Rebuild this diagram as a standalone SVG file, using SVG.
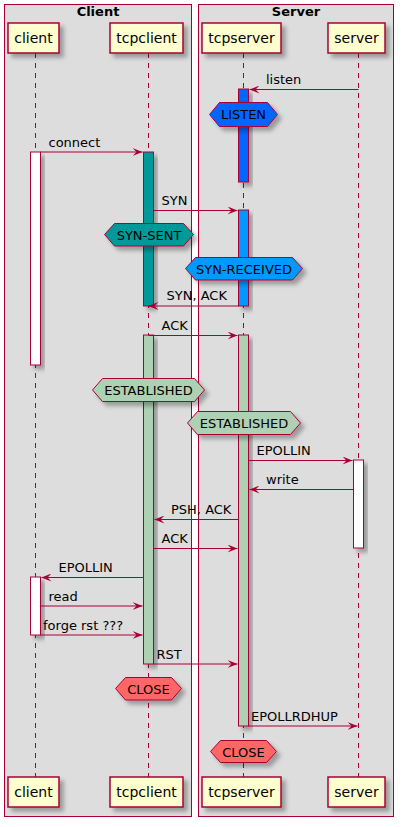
<svg xmlns="http://www.w3.org/2000/svg" width="404" height="827" viewBox="0 0 404 827">
<defs>
<filter id="sh" x="-20%" y="-20%" width="160%" height="160%">
<feDropShadow dx="4" dy="4" stdDeviation="2" flood-color="#000" flood-opacity="0.3"/>
</filter>
<marker id="ah" viewBox="0 0 10 8" refX="10" refY="4" markerWidth="10" markerHeight="8" markerUnits="userSpaceOnUse" orient="auto">
<polygon points="0,0 10,4 0,8 4,4" fill="#A80036"/>
</marker>
</defs>
<style>
.box{fill:#DDDDDD;stroke:#A80036;stroke-width:1}
.bt{font-family:"DejaVu Sans",sans-serif;font-size:13px;font-weight:bold;fill:#000;text-anchor:middle}
.life{stroke:#A80036;stroke-width:1;stroke-dasharray:5,5}
.p{fill:#FEFECE;stroke:#A80036;stroke-width:1.5;filter:url(#sh)}
.pt{font-family:"DejaVu Sans",sans-serif;font-size:14px;fill:#000;text-anchor:middle}
.act{stroke:#A80036;stroke-width:1;filter:url(#sh)}
.hex{stroke:#A80036;stroke-width:1;filter:url(#sh)}
.ht{font-family:"DejaVu Sans",sans-serif;font-size:13px;fill:#000;text-anchor:middle}
.m{stroke:#A80036;stroke-width:1;fill:none;marker-end:url(#ah)}
.ml{font-family:"DejaVu Sans",sans-serif;font-size:13px;fill:#000}
</style>
<rect width="404" height="827" fill="#FFFFFF"/>
<g id="box-client"><rect class="box" x="4.5" y="4.5" width="187" height="812"/><text class="bt" x="98" y="16">Client</text></g>
<g id="box-server"><rect class="box" x="198.5" y="4.5" width="195" height="812"/><text class="bt" x="296" y="16">Server</text></g>
<g id="lifelines">
<line class="life" x1="35.5" y1="53" x2="35.5" y2="777"/>
<line class="life" x1="148.5" y1="53" x2="148.5" y2="777"/>
<line class="life" x1="243.5" y1="53" x2="243.5" y2="777"/>
<line class="life" x1="358.5" y1="53" x2="358.5" y2="777"/>
</g>
<g id="client"><rect class="p" x="8" y="23" width="51" height="30"/><text class="pt" x="33.5" y="43">client</text><rect class="p" x="8" y="777" width="51" height="30"/><text class="pt" x="33.5" y="797">client</text></g>
<g id="tcpclient"><rect class="p" x="110" y="23" width="73" height="30"/><text class="pt" x="146.5" y="43">tcpclient</text><rect class="p" x="110" y="777" width="73" height="30"/><text class="pt" x="146.5" y="797">tcpclient</text></g>
<g id="tcpserver"><rect class="p" x="202" y="23" width="79" height="30"/><text class="pt" x="241.5" y="43">tcpserver</text><rect class="p" x="202" y="777" width="79" height="30"/><text class="pt" x="241.5" y="797">tcpserver</text></g>
<g id="server"><rect class="p" x="328" y="23" width="57" height="30"/><text class="pt" x="356.5" y="43">server</text><rect class="p" x="328" y="777" width="57" height="30"/><text class="pt" x="356.5" y="797">server</text></g>
<g id="activations">
<rect class="act" x="238.5" y="89" width="10" height="93" fill="#0066FF"/>
<rect class="act" x="30.5" y="152" width="10" height="213" fill="#FFFFFF"/>
<rect class="act" x="143.5" y="152" width="10" height="154" fill="#009999"/>
<rect class="act" x="238.5" y="210" width="10" height="96" fill="#0099FF"/>
<rect class="act" x="143.5" y="335" width="10" height="329" fill="#ADD1B2"/>
<rect class="act" x="238.5" y="335" width="10" height="391" fill="#ADD1B2"/>
<rect class="act" x="353.5" y="460" width="10" height="88" fill="#FFFFFF"/>
<rect class="act" x="30.5" y="577" width="10" height="58" fill="#FFFFFF"/>
</g>
<g id="states">
<g id="s-listen"><polygon class="hex" fill="#0066FF" points="209.5,114.5 219.5,102.5 267.5,102.5 277.5,114.5 267.5,126.5 219.5,126.5"/><text class="ht" x="243.5" y="119">LISTEN</text></g>
<g id="s-synsent"><polygon class="hex" fill="#009999" points="104.5,234.5 114.5,223.5 183.5,223.5 193.5,234.5 183.5,246 114.5,246"/><text class="ht" x="149" y="240">SYN-SENT</text></g>
<g id="s-synrecv"><polygon class="hex" fill="#0099FF" points="185.5,268.5 195.5,257.5 292.5,257.5 302.5,268.5 292.5,280 195.5,280"/><text class="ht" x="244" y="274">SYN-RECEIVED</text></g>
<g id="s-est1"><polygon class="hex" fill="#ADD1B2" points="92.5,390 102.5,378.5 194.5,378.5 204.5,390 194.5,401.5 102.5,401.5"/><text class="ht" x="148.5" y="395">ESTABLISHED</text></g>
<g id="s-est2"><polygon class="hex" fill="#ADD1B2" points="187.5,423 197.5,411.5 290.5,411.5 300.5,423 290.5,434.5 197.5,434.5"/><text class="ht" x="244" y="428">ESTABLISHED</text></g>
<g id="s-close1"><polygon class="hex" fill="#FF6666" points="115.5,688.5 125.5,677.5 171.5,677.5 181.5,688.5 171.5,700 125.5,700"/><text class="ht" x="148.5" y="694">CLOSE</text></g>
<g id="s-close2"><polygon class="hex" fill="#FF6666" points="210.5,751.5 220.5,740.5 266.5,740.5 276.5,751.5 266.5,762.5 220.5,762.5"/><text class="ht" x="243.5" y="757">CLOSE</text></g>
</g>
<g id="connectors">
<line class="m" x1="358.5" y1="89.5" x2="249.5" y2="89.5"/><text class="ml" x="266" y="84">listen</text>
<line class="m" x1="40.5" y1="152" x2="142.5" y2="152"/><text class="ml" x="48.5" y="147">connect</text>
<line class="m" x1="153.5" y1="210.5" x2="237.5" y2="210.5"/><text class="ml" x="161.5" y="205">SYN</text>
<line class="m" x1="238.5" y1="306" x2="148.5" y2="306"/><text class="ml" x="166.5" y="300">SYN, ACK</text>
<line class="m" x1="148.5" y1="335.5" x2="237.5" y2="335.5"/><text class="ml" x="161.5" y="330">ACK</text>
<line class="m" x1="248.5" y1="460.5" x2="352.5" y2="460.5"/><text class="ml" x="256.5" y="455">EPOLLIN</text>
<line class="m" x1="353.5" y1="489.5" x2="249.5" y2="489.5"/><text class="ml" x="266" y="484">write</text>
<line class="m" x1="238.5" y1="519.5" x2="154.5" y2="519.5"/><text class="ml" x="171" y="514">PSH, ACK</text>
<line class="m" x1="153.5" y1="548.5" x2="237.5" y2="548.5"/><text class="ml" x="161.5" y="543">ACK</text>
<line class="m" x1="143.5" y1="577.5" x2="41.5" y2="577.5"/><text class="ml" x="58.5" y="572">EPOLLIN</text>
<line class="m" x1="40.5" y1="606" x2="142.5" y2="606"/><text class="ml" x="48.5" y="601">read</text>
<line class="m" x1="40.5" y1="635" x2="142.5" y2="635"/><text class="ml" x="43" y="630">forge rst ???</text>
<line class="m" x1="153.5" y1="664" x2="237.5" y2="664"/><text class="ml" x="156.5" y="659">RST</text>
<line class="m" x1="248.5" y1="726" x2="357.5" y2="726"/><text class="ml" x="251" y="721">EPOLLRDHUP</text>
</g>
</svg>
